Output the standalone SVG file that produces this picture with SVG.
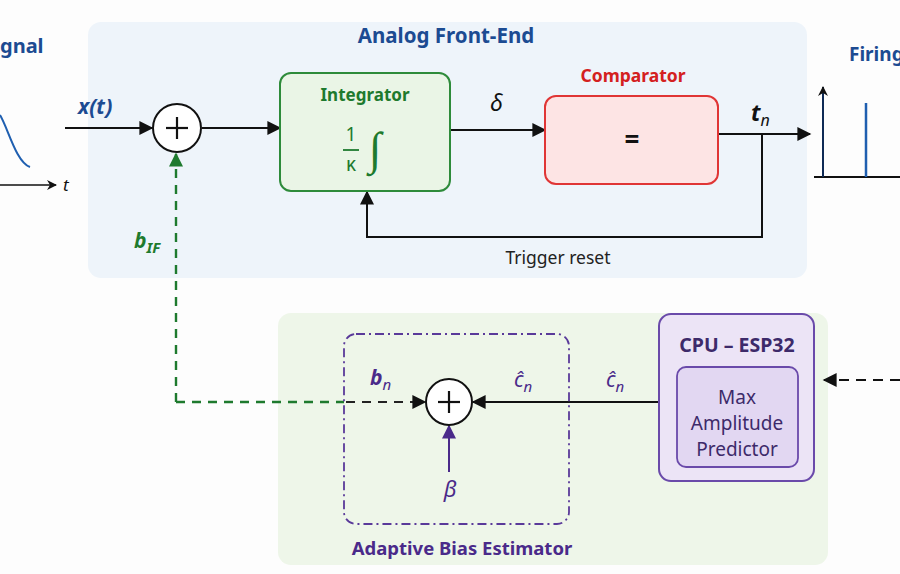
<svg xmlns="http://www.w3.org/2000/svg" width="900" height="574" viewBox="0 0 900 574">
<defs>
<marker id="ak" viewBox="0 0 10 10" refX="9" refY="5" markerWidth="16" markerHeight="14" orient="auto" markerUnits="userSpaceOnUse"><path d="M0,0 L10,5 L0,10 z" fill="#111"/></marker>
<marker id="ag" viewBox="0 0 10 10" refX="9" refY="5" markerWidth="16" markerHeight="14" orient="auto" markerUnits="userSpaceOnUse"><path d="M0,0 L10,5 L0,10 z" fill="#1e7a2e"/></marker>
<marker id="ap" viewBox="0 0 10 10" refX="9" refY="5" markerWidth="16" markerHeight="14" orient="auto" markerUnits="userSpaceOnUse"><path d="M0,0 L10,5 L0,10 z" fill="#4a2a8a"/></marker>
<marker id="as" viewBox="0 0 10 10" refX="9" refY="5" markerWidth="10" markerHeight="10" orient="auto" markerUnits="userSpaceOnUse"><path d="M0,0 L10,5 L0,10 L3,5 z" fill="#111"/></marker>
</defs>
<style>
text{font-family:"Noto Sans","Open Sans","Liberation Sans",sans-serif;}
.ttl{font-weight:bold;font-size:20.5px;fill:#1c4b92;text-anchor:middle;}
.lbl{font-weight:bold;font-size:17px;text-anchor:middle;}
.math{font-style:italic;font-size:20px;}
.ln{fill:none;stroke:#111;stroke-width:2;}
.sum{fill:#fff;stroke:#111;stroke-width:2;}
.plus{stroke:#111;stroke-width:2.2;}
</style>
<rect width="900" height="574" fill="#fdfdfd"/>
<!-- panels -->
<g id="afe-panel">
<rect x="88" y="22" width="719" height="256" rx="13" fill="#eef4fa"/>
<text class="ttl" x="446" y="43">Analog Front-End</text>
</g>
<g id="abe-panel">
<rect x="278" y="313" width="550" height="252" rx="13" fill="#eef6e9"/>
</g>
<!-- input signal -->
<g id="input-signal">
<text x="0" y="53" style="font-weight:bold;font-size:20px;fill:#1c4b92">gnal</text>
<path d="M0,115 C8,128 16,162 30,167" fill="none" stroke="#1f5fb0" stroke-width="2"/>
<line x1="0" y1="185" x2="56" y2="185" stroke="#111" stroke-width="1.6" marker-end="url(#as)"/>
<text x="63" y="191" style="font-style:italic;font-size:17px;fill:#111">t</text>
</g>
<!-- firing plot -->
<g id="firing">
<text x="849" y="61" style="font-weight:bold;font-size:19px;fill:#1c4b92">Firing</text>
<line x1="814" y1="177" x2="900" y2="177" stroke="#111" stroke-width="1.8"/>
<line x1="823" y1="177" x2="823" y2="87" stroke="#0e2a55" stroke-width="2" marker-end="url(#as)"/>
<line x1="866" y1="177" x2="866" y2="103" stroke="#1f5fb0" stroke-width="2.5"/>
</g>
<!-- connectors -->
<g id="connectors">
<line class="ln" x1="65" y1="128" x2="152" y2="128" marker-end="url(#ak)"/>
<line class="ln" x1="202" y1="128" x2="280" y2="128" marker-end="url(#ak)"/>
<line class="ln" x1="450" y1="130" x2="545" y2="130" marker-end="url(#ak)"/>
<line class="ln" x1="718" y1="134" x2="810" y2="134" marker-end="url(#ak)"/>
<polyline class="ln" points="762,134 762,237 367,237 367,192" marker-end="url(#ak)"/>
<polyline points="176,402 176,154" fill="none" stroke="#1e7a2e" stroke-width="2.4" stroke-dasharray="9,7" marker-end="url(#ag)"/>
<line x1="176" y1="402" x2="344" y2="402" stroke="#1e7a2e" stroke-width="2.4" stroke-dasharray="9,7"/>
<line x1="346" y1="402" x2="425" y2="402" stroke="#222" stroke-width="2" stroke-dasharray="9,7" marker-end="url(#ak)"/>
<line class="ln" x1="659" y1="402" x2="473" y2="402" marker-end="url(#ak)"/>
<line x1="449" y1="472" x2="449" y2="426" stroke="#4a2a8a" stroke-width="2" marker-end="url(#ap)"/>
<line x1="900" y1="380" x2="824" y2="380" stroke="#111" stroke-width="2" stroke-dasharray="10,7" marker-end="url(#ak)"/>
</g>
<!-- labels -->
<g id="labels">
<text x="78" y="114" style="font-weight:bold;font-style:italic;font-size:21px;fill:#1c4b92">x(t)</text>
<text x="490" y="111" class="math" style="font-size:23px" fill="#111">δ</text>
<text x="751" y="121" style="font-weight:bold;font-style:italic;font-size:23px;fill:#111">t<tspan dy="5" font-size="16" font-weight="normal">n</tspan></text>
<text x="558" y="264" style="font-size:17.5px;fill:#222;text-anchor:middle">Trigger reset</text>
<text x="134" y="248" style="font-weight:bold;font-style:italic;font-size:21px;fill:#1e7a2e">b<tspan dy="5" font-size="15">IF</tspan></text>
<text x="370" y="385" style="font-weight:bold;font-style:italic;font-size:21px;fill:#4a2a8a">b<tspan dy="5" font-size="15" font-weight="normal">n</tspan></text>
<text x="514" y="387" style="font-style:italic;font-size:21px;fill:#4a2a8a">ĉ<tspan dy="5" font-size="15">n</tspan></text>
<text x="606" y="387" style="font-style:italic;font-size:21px;fill:#4a2a8a">ĉ<tspan dy="5" font-size="15">n</tspan></text>
<text x="450" y="497" style="font-style:italic;font-size:22px;fill:#4a2a8a;text-anchor:middle">β</text>
</g>
<!-- nodes -->
<g id="sum1">
<circle class="sum" cx="177" cy="128" r="24"/>
<line class="plus" x1="166" y1="128" x2="188" y2="128"/>
<line class="plus" x1="177" y1="117" x2="177" y2="139"/>
</g>
<g id="integrator">
<rect x="280" y="73" width="170" height="118" rx="11" fill="#eaf5e6" stroke="#2e8b3a" stroke-width="2"/>
<text class="lbl" x="365" y="101" fill="#1e7a2e">Integrator</text>
<text x="351" y="141" style="font-size:19px;fill:#1e7a2e;text-anchor:middle">1</text>
<line x1="343" y1="150" x2="359" y2="150" stroke="#1e7a2e" stroke-width="1.8"/>
<text x="351" y="171" style="font-size:19px;fill:#1e7a2e;text-anchor:middle">κ</text>
<text x="375" y="164" style="font-family:'Liberation Serif',serif;font-size:46px;fill:#1e7a2e;text-anchor:middle">∫</text>
</g>
<g id="comparator">
<rect x="545" y="96" width="173" height="88" rx="11" fill="#fde4e4" stroke="#e03535" stroke-width="2"/>
<text class="lbl" x="633" y="82" style="font-size:17.5px" fill="#d42020">Comparator</text>
<text x="632" y="149" style="font-size:26px;font-weight:bold;fill:#111;text-anchor:middle">=</text>
</g>
<g id="bias-estimator">
<rect x="344" y="334" width="225" height="190" rx="12" fill="none" stroke="#5a3a9a" stroke-width="1.8" stroke-dasharray="9,4,2,4"/>
<text class="lbl" x="462" y="555" style="font-size:18.5px" fill="#4a2a8a">Adaptive Bias Estimator</text>
</g>
<g id="sum2">
<circle class="sum" cx="449" cy="402" r="23"/>
<line class="plus" x1="438" y1="402" x2="460" y2="402"/>
<line class="plus" x1="449" y1="391" x2="449" y2="413"/>
</g>
<g id="cpu">
<rect x="659" y="314" width="155" height="167" rx="12" fill="#ece4f6" stroke="#6a4aaa" stroke-width="2"/>
<text class="lbl" x="737" y="352" style="font-size:19.5px" fill="#3d2a6a">CPU – ESP32</text>
<rect x="677" y="367" width="121" height="100" rx="9" fill="#e2d7f2" stroke="#6a4aaa" stroke-width="1.8"/>
<text x="737" y="404" style="font-size:19px;fill:#3d2a6a;text-anchor:middle">Max</text>
<text x="737" y="430" style="font-size:19px;fill:#3d2a6a;text-anchor:middle">Amplitude</text>
<text x="737" y="456" style="font-size:19px;fill:#3d2a6a;text-anchor:middle">Predictor</text>
</g>
</svg>
